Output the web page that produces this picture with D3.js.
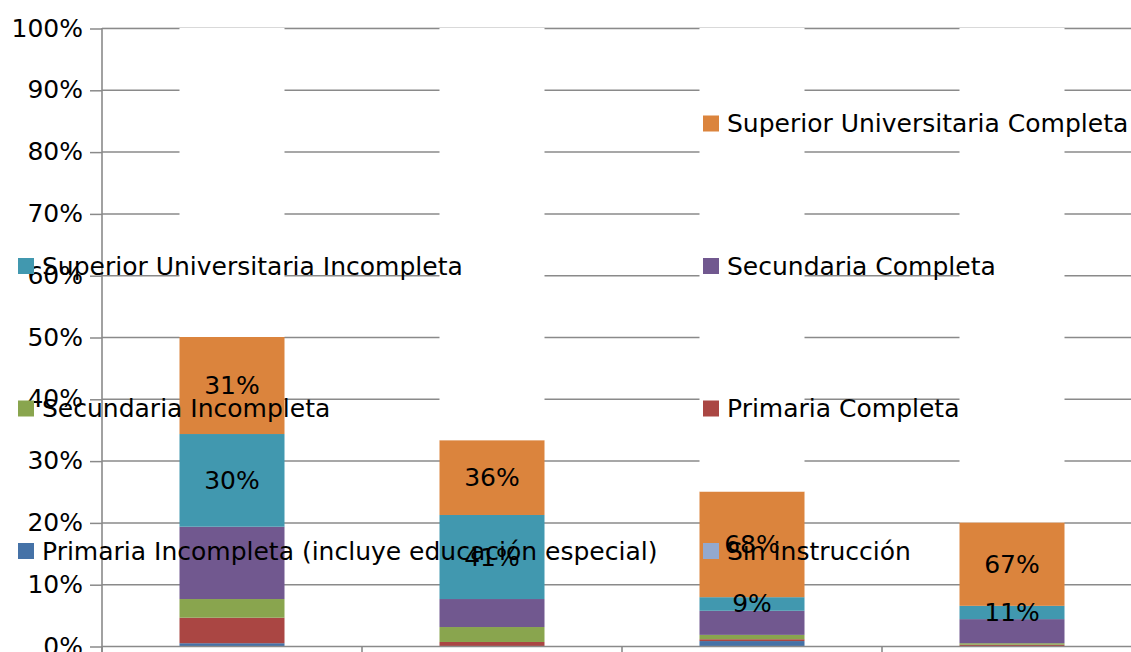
<!DOCTYPE html>
<html>
<head>
<meta charset="utf-8">
<script src="https://cdn.jsdelivr.net/npm/d3@7"></script>
<style>
  html, body { margin: 0; padding: 0; background: #fff; overflow: hidden; }
  svg { display: block; font-family: "DejaVu Sans", sans-serif; }
</style>
</head>
<body>
<div id="chart"></div>
<script>
// categories (axis labels fall below the visible area)
var categories = ["c1", "c2", "c3", "c4"];

// series, bottom to top, values in % of the axis
var seriesNames = [
  "Sin instrucción",
  "Primaria Incompleta (incluye educación especial)",
  "Primaria Completa",
  "Secundaria Incompleta",
  "Secundaria Completa",
  "Superior Universitaria Incompleta",
  "Superior Universitaria Completa"
];
var seriesColors = ["#93a9cf", "#4572a7", "#aa4643", "#89a54e", "#71588f", "#4198af", "#db843d"];

var sinInstruccion       = [0, 0, 0, 0];
var primariaIncompleta   = [0.45, 0, 0.8, 0];
var primariaCompleta     = [4.13, 0.65, 0.3, 0.2];
var secundariaIncompleta = [3.02, 2.42, 0.7, 0.25];
var secundariaCompleta   = [11.7, 4.53, 3.9, 3.9];
var superiorIncompleta   = [15.0, 13.6, 2.2, 2.15];
var superiorCompleta     = [15.7, 12.1, 17.1, 13.5];

// share labels shown inside the two top segments
var labelsSuperiorCompleta   = ["31%", "36%", "68%", "67%"];
var labelsSuperiorIncompleta = ["30%", "41%", "9%", "11%"];

var yTicks = [0, 10, 20, 30, 40, 50, 60, 70, 80, 90, 100];

var create_chart = function() {
  var W = 1131, H = 652;
  var left = 102, right = 1142, top = 28, bottom = 646;
  var gridColor = "#8a8a8a";
  var fontSize = 25;

  var allSeries = [sinInstruccion, primariaIncompleta, primariaCompleta,
    secundariaIncompleta, secundariaCompleta, superiorIncompleta, superiorCompleta];

  var rows = categories.map(function(c, i) {
    var row = { cat: c };
    var total = 0;
    seriesNames.forEach(function(s, k) { row[s] = allSeries[k][i]; total += allSeries[k][i]; });
    row["__rest"] = Math.max(0, 100 - total); // white remainder up to 100%
    return row;
  });
  var keys = seriesNames.concat(["__rest"]);
  var colors = seriesColors.concat(["#ffffff"]);

  var x = d3.scaleBand().domain(categories).range([left, right]).paddingInner(0).paddingOuter(0);
  var y = d3.scaleLinear().domain([0, 100]).range([bottom, top]);
  var barW = 105;

  var svg = d3.select("#chart").append("svg").attr("width", W).attr("height", H);

  // gridlines
  svg.append("g").selectAll("line").data(yTicks.slice(1)).join("line")
      .attr("x1", left).attr("x2", right)
      .attr("y1", function(d) { return y(d) + 0.5; })
      .attr("y2", function(d) { return y(d) + 0.5; })
      .attr("stroke", gridColor).attr("stroke-width", 1.5);

  // stacked bars
  var stacked = d3.stack().keys(keys)(rows);
  svg.append("g").selectAll("g").data(stacked).join("g")
      .attr("fill", function(d, i) { return colors[i]; })
    .selectAll("rect").data(function(d) { return d; }).join("rect")
      .attr("x", function(d) { return x(d.data.cat) + (x.bandwidth() - barW) / 2; })
      .attr("width", barW)
      .attr("y", function(d) { return y(d[1]) - (d[1] >= 100 ? 1 : 0); })
      .attr("height", function(d) { return y(d[0]) - y(d[1]) + (d[1] >= 100 ? 1 : 0); });

  // light frame line along the top
  svg.append("line")
      .attr("x1", left).attr("x2", W).attr("y1", top - 0.5).attr("y2", top - 0.5)
      .attr("stroke", "#d9d9d9").attr("stroke-width", 1);

  // y axis
  var yAxis = d3.axisLeft(y).tickValues(yTicks).tickSize(12).tickPadding(7)
      .tickFormat(function(d) { return d + "%"; });
  var gy = svg.append("g").attr("transform", "translate(" + left + ",0)").call(yAxis);
  gy.select(".domain").remove();
  gy.selectAll(".tick line").attr("stroke", gridColor).attr("stroke-width", 1.5)
      .attr("transform", "translate(0,0.5)");
  gy.selectAll(".tick text").attr("font-size", fontSize).attr("fill", "#000")
      .attr("font-family", "DejaVu Sans, sans-serif");
  svg.append("line").attr("x1", left).attr("x2", left).attr("y1", top).attr("y2", H)
      .attr("stroke", gridColor).attr("stroke-width", 1.6);

  // x axis
  svg.append("line").attr("x1", left).attr("x2", right)
      .attr("y1", bottom + 0.5).attr("y2", bottom + 0.5)
      .attr("stroke", gridColor).attr("stroke-width", 1.6);
  svg.append("g").selectAll("line").data(categories.concat(["__end"])).join("line")
      .attr("x1", function(d, i) { return left + i * x.bandwidth(); })
      .attr("x2", function(d, i) { return left + i * x.bandwidth(); })
      .attr("y1", bottom).attr("y2", H)
      .attr("stroke", gridColor).attr("stroke-width", 1.6);

  // data labels
  var topSeg = stacked[keys.indexOf("Superior Universitaria Completa")];
  var midSeg = stacked[keys.indexOf("Superior Universitaria Incompleta")];
  var labelData = [];
  categories.forEach(function(c, i) {
    labelData.push({ seg: topSeg[i], text: labelsSuperiorCompleta[i] });
    labelData.push({ seg: midSeg[i], text: labelsSuperiorIncompleta[i] });
  });
  svg.append("g").selectAll("text").data(labelData).join("text")
      .attr("x", function(d) { return x(d.seg.data.cat) + x.bandwidth() / 2; })
      .attr("y", function(d) { return (y(d.seg[0]) + y(d.seg[1])) / 2; })
      .attr("text-anchor", "middle").attr("dominant-baseline", "central")
      .attr("font-size", fontSize).attr("fill", "#000")
      .text(function(d) { return d.text; });

  // legend, two columns, reverse order, overlaid on the plot
  var legendItems = [
    { name: "", color: null },
    { name: seriesNames[6], color: seriesColors[6] },
    { name: seriesNames[5], color: seriesColors[5] },
    { name: seriesNames[4], color: seriesColors[4] },
    { name: seriesNames[3], color: seriesColors[3] },
    { name: seriesNames[2], color: seriesColors[2] },
    { name: seriesNames[1], color: seriesColors[1] },
    { name: seriesNames[0], color: seriesColors[0] }
  ];
  var colX = [18, 703];
  var rowY = [123.5, 266, 408.5, 551];
  var lg = svg.append("g").selectAll("g").data(legendItems.filter(function(d) { return d.color; }))
    .join("g")
      .attr("transform", function(d) {
        var idx = legendItems.indexOf(d);
        return "translate(" + colX[idx % 2] + "," + rowY[Math.floor(idx / 2)] + ")";
      });
  lg.append("rect").attr("x", 0).attr("y", -8).attr("width", 16).attr("height", 16)
      .attr("fill", function(d) { return d.color; });
  lg.append("text").attr("x", 24).attr("y", 0).attr("dominant-baseline", "central")
      .attr("font-size", fontSize).attr("fill", "#000")
      .text(function(d) { return d.name; });
}

create_chart();
</script>
</body>
</html>
